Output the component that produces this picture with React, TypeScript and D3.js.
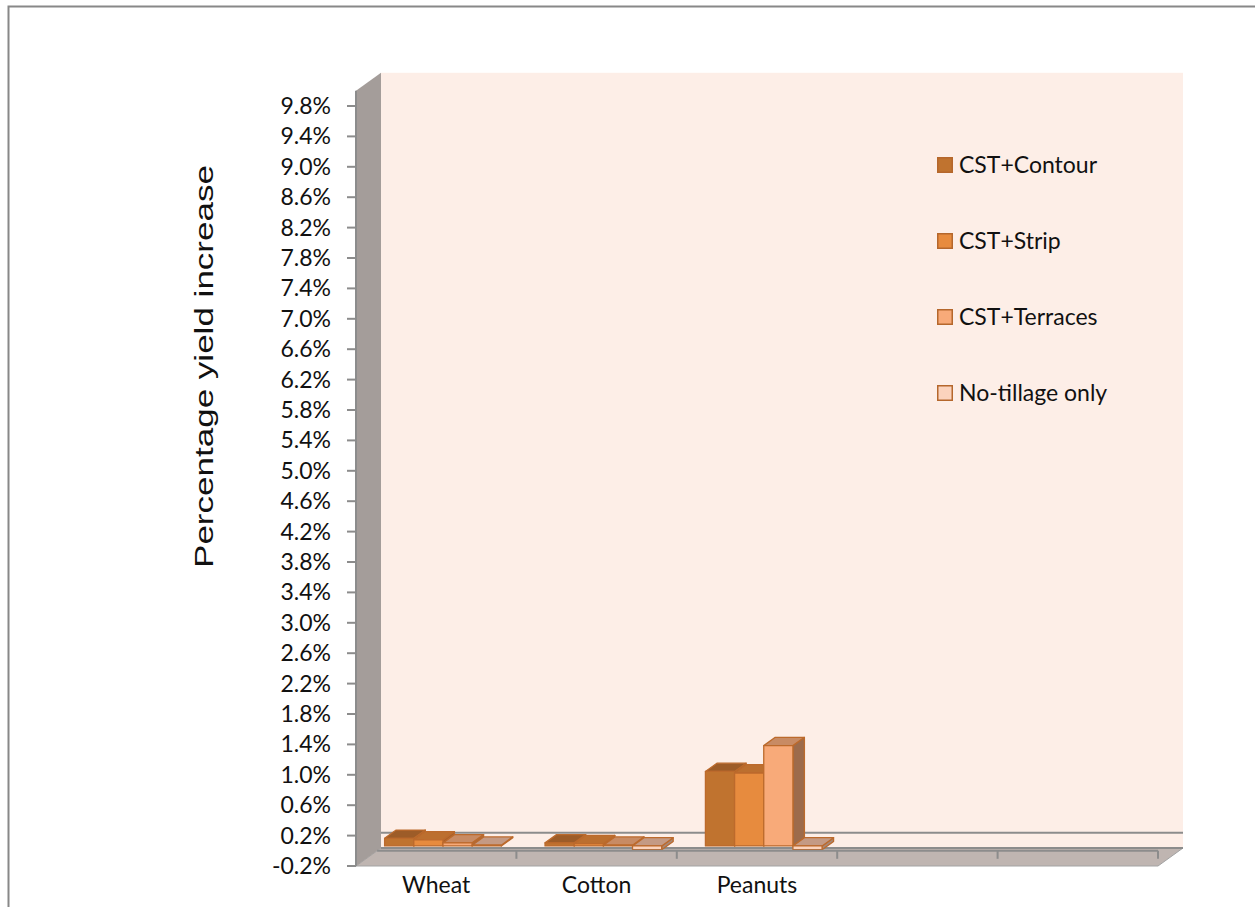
import React from "react";
import * as d3 from "d3";

// Chart data
const categories = ["Wheat", "Cotton", "Peanuts", "", ""];
const seriesNames = ["CST+Contour", "CST+Strip", "CST+Terraces", "No-tillage only"];
const contourValues = [0.1, 0.04, 0.98];
const stripValues = [0.08, 0.03, 0.96];
const terracesValues = [0.04, 0.01, 1.32];
const noTillageValues = [0.01, -0.05, -0.05];
const yTickValues = [
  -0.2, 0.2, 0.6, 1.0, 1.4, 1.8, 2.2, 2.6, 3.0, 3.4, 3.8, 4.2, 4.6, 5.0, 5.4,
  5.8, 6.2, 6.6, 7.0, 7.4, 7.8, 8.2, 8.6, 9.0, 9.4, 9.8,
];
const yMin = -0.2;
const yMax = 10.0;

const seriesValues = [contourValues, stripValues, terracesValues, noTillageValues];

// Face colours per series
const frontFill = ["#C0732F", "#E78B3E", "#F8AA79", "#FBD3BD"];
const topFill = ["#9D5C28", "#BC6F2F", "#C88B64", "#C49A84"];
const sideFill = ["#8A5226", "#A9602A", "#9D6B4B", "#A88775"];
const edgeColor = "#BC6A2C";
const gridGray = "#8C8C8C";

// Oblique depth vector for the 3-D box
const DX = 25;
const DY = 18;
const barZ0 = 0.27;
const barZ1 = 0.73;

const W = 1255;
const H = 907;
const FONT = "Lato, 'Open Sans', sans-serif";

export default function App() {
  const y = d3.scaleLinear().domain([-0.2, 9.8]).range([866, 106]);
  const x0 = d3
    .scaleBand<number>()
    .domain(d3.range(categories.length))
    .range([356, 1158])
    .paddingInner(0)
    .paddingOuter(0);
  const x1 = d3
    .scaleBand<number>()
    .domain(d3.range(seriesNames.length))
    .range([0, x0.bandwidth()])
    .paddingInner(0)
    .paddingOuter(0.75);

  const proj = (x: number, v: number, z: number): [number, number] => [
    x + z * DX,
    y(v) - z * DY,
  ];
  const poly = (pts: [number, number][]) =>
    pts.map((p) => `${p[0].toFixed(2)},${p[1].toFixed(2)}`).join(" ");

  const xL = x0.range()[0];
  const xR = x0.range()[1];

  // Walls and floor
  const backTL = proj(xL, yMax, 1);
  const backBR = proj(xR, yMin, 1);
  const leftWall = poly([
    proj(xL, yMin, 0),
    proj(xL, yMax, 0),
    proj(xL, yMax, 1),
    proj(xL, yMin, 1),
  ]);
  const floor = poly([
    proj(xL, yMin, 0),
    proj(xR, yMin, 0),
    proj(xR, yMin, 1),
    proj(xL, yMin, 1),
  ]);
  const backZeroA = proj(xL, 0, 1);
  const backZeroB = proj(xR, 0, 1);
  const floorBackA = proj(xL, yMin, 1);
  const floorBackB = proj(xR, yMin, 1);

  // Front category axis at value 0, starting where it meets the floor edge
  const axisY = y(0);
  const axisStartX = xL + ((y(yMin) - axisY) / DY) * DX;

  // Bars, drawn left to right so later boxes cover earlier side faces
  const bars: React.ReactNode[] = [];
  seriesValues[0].forEach((_, ci) => {
    seriesValues.forEach((vals, si) => {
      const v = vals[ci];
      const xa = (x0(ci) as number) + (x1(si) as number);
      const xb = xa + x1.bandwidth();
      const top = Math.max(v, 0);
      const bot = Math.min(v, 0);
      const front = poly([
        proj(xa, top, barZ0),
        proj(xb, top, barZ0),
        proj(xb, bot, barZ0),
        proj(xa, bot, barZ0),
      ]);
      const topFace = poly([
        proj(xa, top, barZ0),
        proj(xb, top, barZ0),
        proj(xb, top, barZ1),
        proj(xa, top, barZ1),
      ]);
      const side = poly([
        proj(xb, top, barZ0),
        proj(xb, top, barZ1),
        proj(xb, bot, barZ1),
        proj(xb, bot, barZ0),
      ]);
      bars.push(
        <g key={`b-${ci}-${si}`} stroke={edgeColor} strokeWidth={1.3} strokeLinejoin="round">
          <polygon points={side} fill={sideFill[si]} />
          <polygon points={topFace} fill={topFill[si]} />
          <polygon points={front} fill={frontFill[si]} />
        </g>
      );
    });
  });

  const legendX = 937;
  const legendY0 = 165;
  const legendStep = 76;

  // Axis title: tall, horizontally stretched Arial-style lettering
  const titleText = "Percentage yield increase";
  const titleSize = 25.5;
  const titleNatural = 11.5 * titleSize;
  const titleStretch = 403 / titleNatural;

  return (
    <svg
      width={W}
      height={H}
      viewBox={`0 0 ${W} ${H}`}
      style={{ position: "absolute", left: 0, top: 0, background: "#fff" }}
    >
      {/* chart area border */}
      <rect x={8.5} y={6.5} width={W + 20} height={H + 20} fill="#fff" stroke="#888" strokeWidth={2} />

      {/* back wall */}
      <rect
        x={backTL[0]}
        y={backTL[1]}
        width={backBR[0] - backTL[0]}
        height={backBR[1] - backTL[1]}
        fill="#FDEEE7"
      />
      <line
        x1={backZeroA[0]}
        y1={backZeroA[1]}
        x2={backZeroB[0]}
        y2={backZeroB[1]}
        stroke={gridGray}
        strokeWidth={2}
      />

      {/* floor */}
      <polygon points={floor} fill="#BFB5B1" stroke="#A3A3A3" strokeWidth={1} />
      <line
        x1={floorBackA[0]}
        y1={floorBackA[1]}
        x2={floorBackB[0]}
        y2={floorBackB[1]}
        stroke={gridGray}
        strokeWidth={2}
      />

      {/* side wall */}
      <polygon points={leftWall} fill="#A49D9A" />

      {/* bars */}
      {bars}

      {/* category axis */}
      <line x1={axisStartX} y1={axisY} x2={xR} y2={axisY} stroke={gridGray} strokeWidth={2} />
      {d3.range(1, categories.length + 1).map((k) => {
        const tx = xL + k * x0.step();
        return (
          <line key={`ct-${k}`} x1={tx} y1={axisY} x2={tx} y2={axisY + 8} stroke={gridGray} strokeWidth={2} />
        );
      })}
      {categories.map((c, i) =>
        c ? (
          <text
            key={`cl-${i}`}
            x={(x0(i) as number) + x0.bandwidth() / 2}
            y={893}
            textAnchor="middle"
            fontFamily={FONT}
            fontSize={23}
            fill="#111"
          >
            {c}
          </text>
        ) : null
      )}

      {/* value axis */}
      <line x1={xL} y1={y(yMax)} x2={xL} y2={y(yMin)} stroke={gridGray} strokeWidth={2} />
      {yTickValues.map((t) => (
        <g key={`yt-${t}`}>
          <line x1={xL - 9} y1={y(t)} x2={xL} y2={y(t)} stroke={gridGray} strokeWidth={2} />
          <text
            x={331}
            y={y(t)}
            dy="0.35em"
            textAnchor="end"
            fontFamily={FONT}
            fontSize={23}
            fill="#111"
          >
            {`${t.toFixed(1)}%`}
          </text>
        </g>
      ))}

      {/* axis title */}
      <text
        transform={`translate(213,366.5) rotate(-90) scale(${titleStretch.toFixed(3)},1)`}
        textAnchor="middle"
        fontFamily="'Liberation Sans', Arial, sans-serif"
        fontSize={titleSize}
        fill="#111"
      >
        {titleText}
      </text>

      {/* legend */}
      {seriesNames.map((name, i) => {
        const cy = legendY0 + i * legendStep;
        return (
          <g key={`lg-${i}`}>
            <rect
              x={legendX + 0.75}
              y={cy - 7.25}
              width={14.5}
              height={14.5}
              fill={frontFill[i]}
              stroke="#B5672C"
              strokeWidth={1.5}
            />
            <text x={959} y={cy} dy="0.35em" fontFamily={FONT} fontSize={23} fill="#111">
              {name}
            </text>
          </g>
        );
      })}
    </svg>
  );
}
